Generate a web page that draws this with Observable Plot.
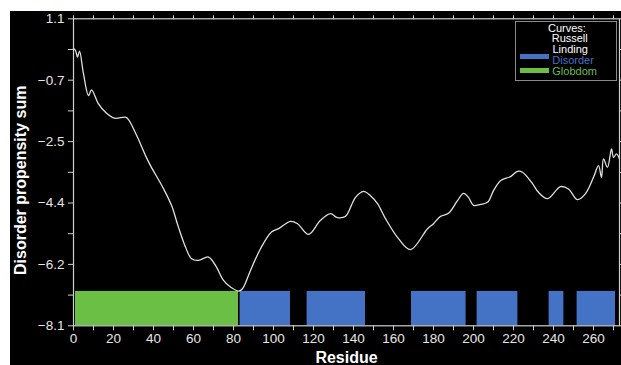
<!DOCTYPE html>
<html>
<head>
<meta charset="utf-8">
<script src="https://cdn.jsdelivr.net/npm/d3@7"></script>
<script src="https://cdn.jsdelivr.net/npm/@observablehq/plot@0.6"></script>
<style>
  html, body { margin: 0; padding: 0; background: #fff; }
  #wrap { position: relative; width: 621px; height: 365px; overflow: hidden; }
  #chart { position: absolute; left: 10px; top: 11px; width: 611px; height: 354px; background: #000; }
  #legend { position: absolute; left: 515px; top: 21px; width: 100px; height: 58px; border: 1px solid #8a8a8a;
    font-family: "Liberation Sans", Arial, sans-serif; font-size: 11px; line-height: 11px; color: #fff; }
  #legend .row { position: absolute; white-space: nowrap; }
  #legend .sw { position: absolute; width: 29px; height: 5px; }
</style>
</head>
<body>
<div id="wrap">
  <div id="chart"></div>
  <div id="legend"></div>
</div>
<script>
// Russell/Linding curve: residue vs disorder propensity sum
const residue = [0, 1, 2, 3, 5, 7.5, 9, 12.5, 16, 20.5, 26, 27.5, 32, 36, 38.5, 45, 49, 52.5, 56, 59, 62.5, 67.5, 71, 75, 78.5, 82.5, 84.5, 88.5, 93.5, 99, 102.5, 108.5, 112, 117.5, 123.5, 128.5, 132, 136, 141, 145, 148.5, 152, 156, 162.5, 168.5, 177, 180, 183.5, 187.5, 192, 195, 197.5, 200, 203.5, 207, 210, 213.5, 218.5, 222, 224.5, 229.5, 232.5, 237, 243.5, 247.5, 252, 256, 260, 262.5, 264, 265, 267, 269, 270, 271.5, 273];
const propensity = [0.21, 0.15, -0.05, 0.13, -0.55, -1.2, -1.03, -1.45, -1.70, -1.88, -1.85, -1.92, -2.45, -3.0, -3.3, -3.99, -4.49, -5.15, -5.74, -6.09, -6.14, -6.04, -6.29, -6.74, -6.94, -7.06, -6.99, -6.44, -5.79, -5.29, -5.19, -4.97, -5.04, -5.36, -4.94, -4.74, -4.86, -4.82, -4.25, -4.07, -4.2, -4.44, -4.89, -5.49, -5.82, -5.19, -5.04, -4.82, -4.73, -4.35, -4.13, -4.25, -4.49, -4.46, -4.40, -4.05, -3.75, -3.63, -3.47, -3.5, -3.84, -4.1, -4.29, -3.93, -4.0, -4.32, -4.14, -3.65, -3.3, -3.65, -3.1, -3.35, -2.8, -3.05, -2.95, -3.1];

// Disorder (blue) and Globdom (green) segments
const disorderStart = [83.3, 116.8, 169, 201.8, 237.8, 251.8];
const disorderEnd   = [108.5, 146, 196.3, 222.2, 245.2, 271];
const globdomStart = [1];
const globdomEnd   = [82.5];
const segmentBottom = -8.1;
const segmentTop = -7.07;

// Axis ticks
const xTicks = d3.range(0, 271, 10);
const xLabelEvery = 20;
const yMajorTicks = [1.1, -0.74, -2.58, -4.42, -6.26, -8.1];
const yTickLabels = ["1.1", "\u22120.7", "\u22122.5", "\u22124.4", "\u22126.2", "\u22128.1"];

const legendItems = ["Curves:", "Russell", "Linding", "Disorder", "Globdom"];

const curve = residue.map((r, i) => ({residue: r, value: propensity[i]}));
const disorder = disorderStart.map((s, i) => ({x1: s, x2: disorderEnd[i]}));
const globdom = globdomStart.map((s, i) => ({x1: s, x2: globdomEnd[i]}));

const yMinor = [];
for (let i = 0; i < yMajorTicks.length - 1; i++) yMinor.push((yMajorTicks[i] + yMajorTicks[i + 1]) / 2);
const yAllTicks = yMajorTicks.concat(yMinor);
const yFmt = d => {
  const k = yMajorTicks.findIndex(v => Math.abs(v - d) < 1e-6);
  return k >= 0 ? yTickLabels[k] : "";
};

const axisColor = "#cfcfcf";
const textColor = "#e6e6e6";
const blue = "#4472c4";
const green = "#6cbf45";

const plot = Plot.plot({
  width: 611,
  height: 354,
  marginLeft: 63,
  marginRight: 2,
  marginTop: 7.3,
  marginBottom: 39.7,
  style: {background: "transparent", color: textColor, fontFamily: "'Liberation Sans', Arial, sans-serif", fontSize: "13.5px"},
  x: {domain: [0, 273]},
  y: {domain: [-8.1, 1.1]},
  marks: [
    Plot.rect(globdom, {x1: "x1", x2: "x2", y1: segmentBottom, y2: segmentTop, fill: green}),
    Plot.rect(disorder, {x1: "x1", x2: "x2", y1: segmentBottom, y2: segmentTop, fill: blue}),
    Plot.line(curve, {x: "residue", y: "value", stroke: "#e0e0e0", strokeWidth: 1.3, curve: "catmull-rom"}),
    Plot.frame({stroke: axisColor, strokeWidth: 1.2}),
    Plot.axisX({ticks: xTicks, tickFormat: d => d % xLabelEvery === 0 ? String(d) : "", tickSize: 5, tickPadding: 3,
      stroke: axisColor, fill: textColor, label: null}),
    Plot.axisX({anchor: "top", ticks: xTicks, tickFormat: () => "", tickSize: 4, stroke: axisColor, label: null}),
    Plot.axisY({ticks: yAllTicks, tickFormat: yFmt, tickSize: 5, tickPadding: 4, stroke: axisColor, fill: textColor, label: null}),
    Plot.axisY({anchor: "right", ticks: yAllTicks, tickFormat: () => "", tickSize: 4, stroke: axisColor, label: null}),
    Plot.text(["Disorder propensity sum"], {frameAnchor: "left", textAnchor: "middle", dx: -53, dy: 8, rotate: -90, fill: "#fff",
      fontWeight: "bold", fontSize: 16, text: d => d}),
    Plot.text(["Residue"], {frameAnchor: "bottom", textAnchor: "middle", dx: 0, dy: 37.5, fill: "#fff",
      fontWeight: "bold", fontSize: 16, text: d => d})
  ]
});
document.getElementById("chart").appendChild(plot);

// Legend
const legend = document.getElementById("legend");
const rows = [
  {text: legendItems[0], left: 32, top: 0.5, color: "#fff"},
  {text: legendItems[1], left: 35.7, top: 11.3, color: "#fff"},
  {text: legendItems[2], left: 36.5, top: 22, color: "#fff"},
  {text: legendItems[3], left: 36.3, top: 32.8, color: blue, sw: blue, swTop: 32.3},
  {text: legendItems[4], left: 36.3, top: 43.8, color: green, sw: green, swTop: 46.3}
];
rows.forEach(r => {
  const d = document.createElement("div");
  d.className = "row";
  d.style.left = r.left + "px";
  d.style.top = r.top + "px";
  d.style.color = r.color;
  d.textContent = r.text;
  legend.appendChild(d);
  if (r.sw) {
    const s = document.createElement("div");
    s.className = "sw";
    s.style.left = "4px";
    s.style.top = r.swTop + "px";
    s.style.background = r.sw;
    legend.appendChild(s);
  }
});
</script>
</body>
</html>
